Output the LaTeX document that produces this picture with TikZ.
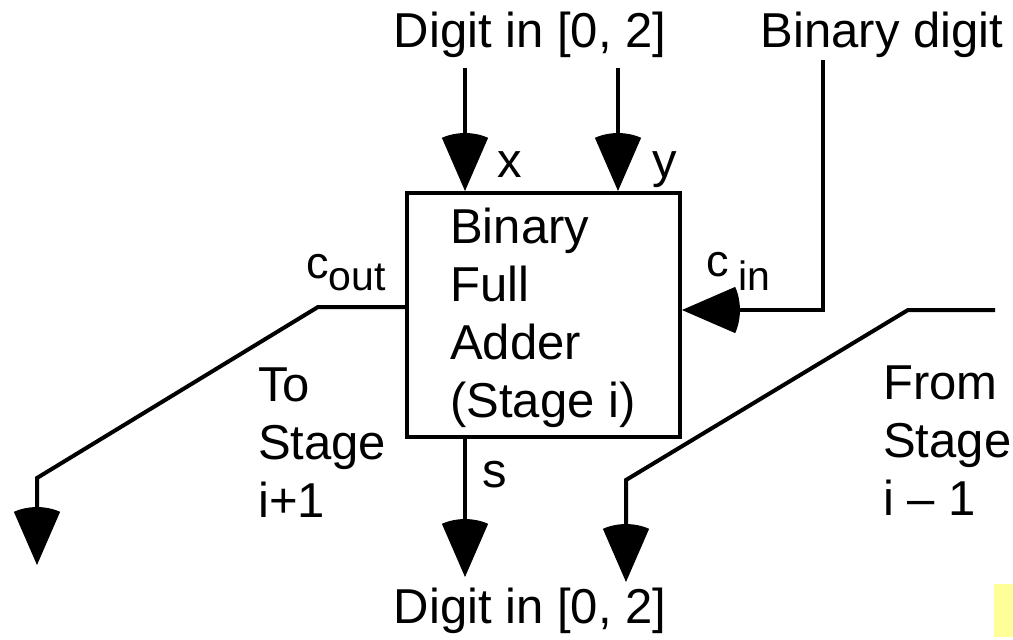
\documentclass[tikz,border=0pt]{standalone}
\usepackage{fontspec}
\setmainfont{Liberation Sans}
\usetikzlibrary{arrows.meta}
\pgfdeclarearrow{
  name = Sector,
  setup code = {
    \pgfarrowssettipend{0pt}
    \pgfarrowssetlineend{-30pt}
    \pgfarrowssetbackend{-58pt}
  },
  drawing code = {
    \pgfpathmoveto{\pgfpointorigin}
    \pgfpathlineto{\pgfpointpolar{156.5}{58pt}}
    \pgfpatharc{156.5}{203.5}{58pt}
    \pgfpathclose
    \pgfusepathqfill
  }
}
\definecolor{note}{HTML}{FFFF99}
\tikzset{
  wire/.style={line width=4pt},
  arr/.style={wire, -{Sector}},
  lbl/.style={anchor=base west, inner sep=0pt, font=\fontsize{49}{58}\selectfont},
  clbl/.style={anchor=base west, inner sep=0pt, font=\fontsize{45}{50}\selectfont},
}
\newcommand{\subtx}[2]{\raisebox{#1}{\fontsize{41}{50}\selectfont #2}}
\begin{document}
\begin{tikzpicture}[x=1pt,y=-1pt]
\useasboundingbox (0,0) rectangle (1013,640);
\fill[note] (994,584) rectangle (1013,637);

% box
\node[draw, wire, minimum width=273pt, minimum height=244pt, inner sep=0pt] (fa) at (543.5,315) {};
\node[lbl] (fa1) at (450,243) {Binary};
\node[lbl] (fa2) at (450,301) {Full};
\node[lbl] (fa3) at (450,359) {Adder};
\node[lbl] (fa4) at (450,417) {(Stage i)};

% texts
\node[lbl, anchor=base] (tin) at (530,47) {Digit in [0, 2]};
\node[lbl, anchor=base] (bdig) at (882,47) {Binary digit};
\node[lbl, anchor=base] (bout) at (530,623) {Digit in [0, 2]};
\node[lbl] (xl) at (497,177) {x};
\node[lbl] (yl) at (652,177) {y};
\node[lbl] (sl) at (482,487) {s};
\node[clbl] (coutl) at (306,278) {c\kern0pt\subtx{-12pt}{out}};
\node[clbl] (cinl) at (706,276) {c\kern10pt\subtx{-14pt}{in}};
\node[lbl] (to1) at (258,401) {To};
\node[lbl] (to2) at (258,459) {Stage};
\node[lbl] (to3) at (258,517) {i+1};
\node[lbl] (fr1t) at (883,399) {From};
\node[lbl] (fr2t) at (883,457) {Stage};
\node[lbl] (fr3t) at (883,515) {i -- 1};

% coordinates
\coordinate (xin) at (465,68);
\coordinate (yin) at (618,68);
\coordinate (bin) at (823,60);
\coordinate (cinc) at (823,310);
\coordinate (cout1) at (318,307);
\coordinate (cout2) at (37,478);
\coordinate (cout3) at (37,565);
\coordinate (sout) at (465,577);
\coordinate (fr0) at (995,310);
\coordinate (fr1) at (908,310);
\coordinate (fr2) at (626,480);
\coordinate (fr3) at (626,582);

% connectors
\draw[arr] (xin) -- (xin |- fa.north);
\draw[arr] (yin) -- (yin |- fa.north);
\draw[arr] (bin) -- (cinc) -- (cinc -| fa.east);
\draw[arr] (fa.west |- cout1) -- (cout1) -- (cout2) -- (cout3);
\draw[arr] (fa.south -| sout) -- (sout);
\draw[arr] (fr0) -- (fr1) -- (fr2) -- (fr3);
\end{tikzpicture}
\end{document}
